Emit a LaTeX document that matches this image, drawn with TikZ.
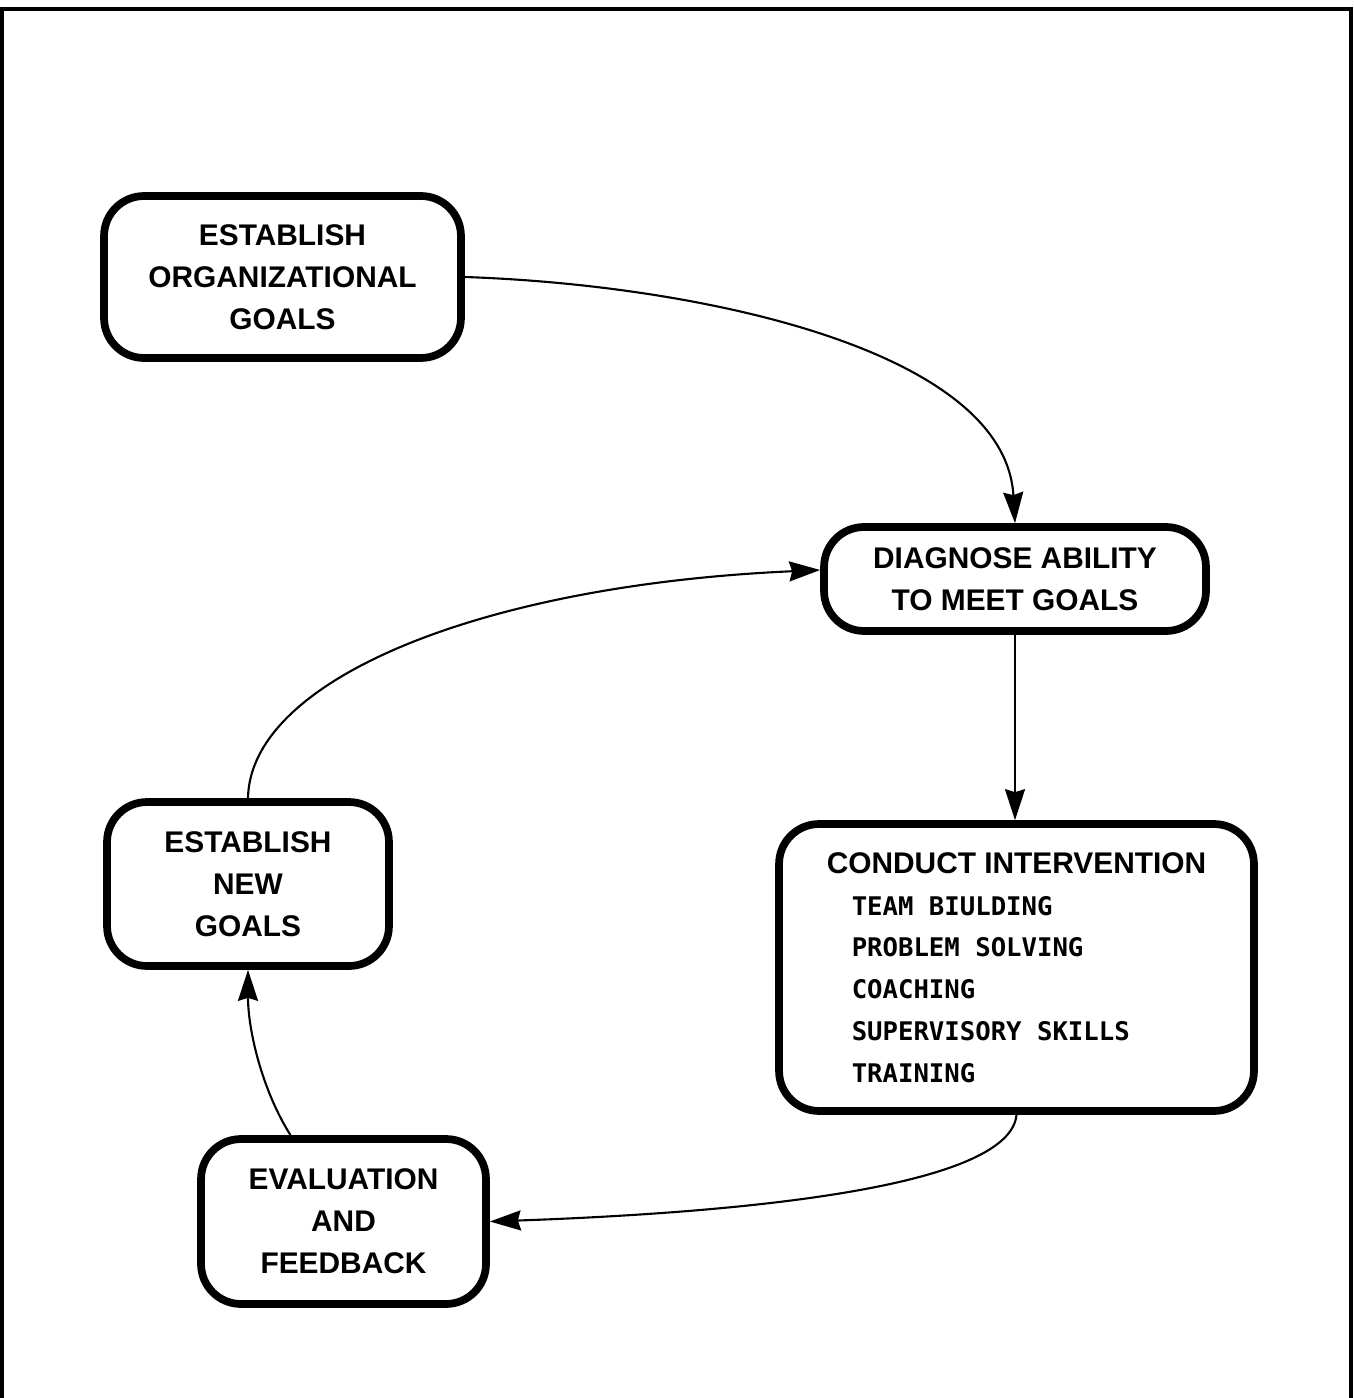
\documentclass[tikz,border=0pt]{standalone}
\usepackage{fontspec}
\setmainfont{Liberation Sans}
\newfontfamily\listfont{DejaVu Sans Mono}
\usetikzlibrary{arrows.meta}
\tikzset{
  stepbox/.style={draw, line width=4.4pt, rounded corners=0.8cm, inner sep=0pt,
    align=center, font=\bfseries\fontsize{17}{23.8}\selectfont},
  flow/.style={line width=1.2pt, -{Stealth[length=0.62cm,width=0.4cm,inset=0.06cm]}},
  frame/.style={line width=1.8pt}
}
\newcommand{\litem}[1]{\hspace*{0.5cm}{\listfont\bfseries\fontsize{14.6}{21}\selectfont #1}}
\begin{document}
\begin{tikzpicture}[x=0.02cm, y=-0.02cm]
  \useasboundingbox (0,0) rectangle (1354,1398);
  % page frame, open at the bottom
  \draw[frame] (2,1398) -- (2,9) -- (1351,9) -- (1351,1398);

  % process steps
  \node[stepbox, minimum width=7.14cm, minimum height=3.24cm] (A) at (282.5,277)
    {ESTABLISH\\ORGANIZATIONAL\\GOALS};
  \node[stepbox, minimum width=7.64cm, minimum height=2.08cm] (B) at (1015,579)
    {DIAGNOSE ABILITY\\TO MEET GOALS};
  \node[stepbox, minimum width=9.5cm, minimum height=5.74cm, align=left] (C) at (1016.5,967.5)
    {CONDUCT INTERVENTION\\
     \litem{TEAM BIULDING}\\
     \litem{PROBLEM SOLVING}\\
     \litem{COACHING}\\
     \litem{SUPERVISORY SKILLS}\\
     \litem{TRAINING}};
  \node[stepbox, minimum width=5.64cm, minimum height=3.28cm] (D) at (248,884)
    {ESTABLISH\\NEW\\GOALS};
  \node[stepbox, minimum width=5.7cm, minimum height=3.3cm] (E) at (343.5,1221.5)
    {EVALUATION\\AND\\FEEDBACK};

  % connectors
  \draw[flow] (A.east) .. controls (700,285) and (1005,350) .. (B.north);
  \draw[flow] (B.south) -- (B.south |- C.north);
  \draw[flow] (C.south) .. controls (1010,1185) and (760,1212) .. (E.east);
  \draw[flow] ([xshift=-1.06cm]E.north) .. controls (262,1090) and (248,1030) .. (D.south);
  \draw[flow] (D.north) .. controls (250,680) and (480,585) .. ([yshift=0.18cm]B.west);
\end{tikzpicture}
\end{document}
